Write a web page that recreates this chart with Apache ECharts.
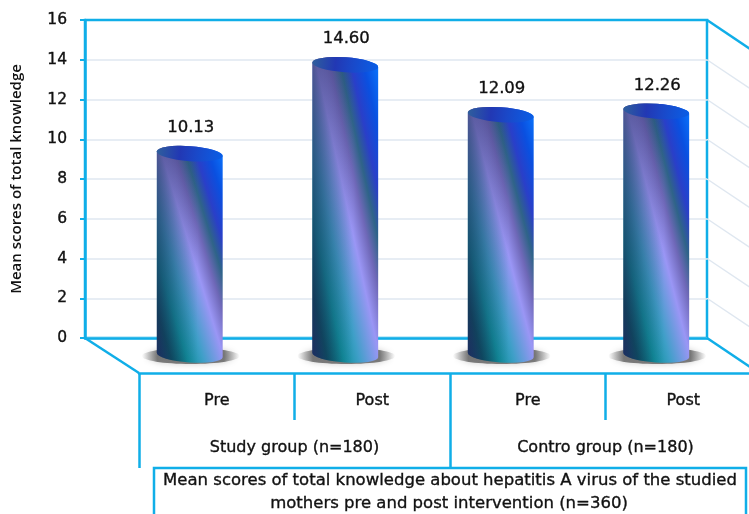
<!DOCTYPE html>
<html>
<head>
<meta charset="utf-8">
<style>html,body{margin:0;padding:0;background:#fff}#chart{width:749px;height:514px}</style>
<script src="https://cdn.jsdelivr.net/npm/echarts@6/dist/echarts.min.js"></script>
</head>
<body>
<div id="chart"></div>
<script>
// Chart values
const barKeys = ['Study Pre', 'Study Post', 'Control Pre', 'Control Post'];
const meanScores = [10.13, 14.60, 12.09, 12.26];
const phaseLabels = ['Pre', 'Post', 'Pre', 'Post'];
const groupLabels = ['Study group (n=180)', 'Contro group (n=180)'];
const yTicks = [0, 2, 4, 6, 8, 10, 12, 14, 16];
const yName = 'Mean scores of total knowledge';
const captionLines = [
  'Mean scores of total knowledge about hepatitis A virus of the studied',
  'mothers pre and post intervention (n=360)'
];

const CYAN = '#10aee8';
const WALL = '#dfe7f0';
const INK = '#111';
const FONT = '"DejaVu Sans", sans-serif';

// Light text outline that thickens the regular weight a little
const heavierLabel = { textBorderColor: INK, textBorderWidth: 0.35 };
const heavierText = { stroke: INK, lineWidth: 0.35 };

// Pseudo-3D depth: how far the bars and the floor sit in front of the back wall
const BAR_DX = 27, BAR_DY = 17;
const FLOOR_DX = 54, FLOOR_DY = 35, WALL_SLOPE = 0.67;
const RX = 33, RY = 7.5, TILT = 4;

const bodyStops = [
  [0.00, '#1d3c78'], [0.12, '#075a68'], [0.24, '#0f929e'], [0.36, '#3f9fc8'],
  [0.52, '#9a96f5'], [0.62, '#6f68b8'], [0.70, '#2f6488'], [0.78, '#2a3fc8'],
  [0.88, '#0a50e0'], [1.00, '#0a78ff']
].map(([offset, color]) => ({ offset, color }));

// Gradient running across the box diagonal so its bands follow the cylinder's slant
function slantedFill(w, h) {
  const l2 = w * w + h * h, ax = h * h / l2, ay = w * w / l2;
  return new echarts.graphic.LinearGradient(0.5 - ax, 0.5 + ay, 0.5 + ax, 0.5 - ay, bodyStops);
}

function renderCylinder(params, api) {
  const idx = api.value(0), val = api.value(1);
  const top = api.coord([idx, val]), base = api.coord([idx, 0]);
  const cx = top[0] + BAR_DX, yTop = top[1] + BAR_DY, yBase = base[1] + BAR_DY;
  const rad = TILT * Math.PI / 180;
  const ex = RX * Math.cos(rad), ey = RX * Math.sin(rad);
  const arc = (sweep, x, y) => `A ${RX} ${RY} ${TILT} 0 ${sweep} ${x} ${y}`;
  const body = `M ${cx - ex} ${yTop - ey} L ${cx - ex} ${yBase - ey} ` +
    arc(0, cx + ex, yBase + ey) + ` L ${cx + ex} ${yTop + ey} ` + arc(0, cx - ex, yTop - ey) + ' Z';
  const cap = `M ${cx - ex} ${yTop - ey} ` + arc(1, cx + ex, yTop + ey) + ' ' + arc(1, cx - ex, yTop - ey) + ' Z';
  return {
    type: 'group',
    children: [
      {
        type: 'ellipse',
        shape: { cx: cx + 1, cy: yBase + 1, rx: 49, ry: 8 },
        style: {
          fill: new echarts.graphic.LinearGradient(0, 0, 1, 0, [
            { offset: 0, color: 'rgba(120,120,120,0)' }, { offset: 0.16, color: 'rgba(95,95,95,0.8)' },
            { offset: 0.84, color: 'rgba(95,95,95,0.8)' }, { offset: 1, color: 'rgba(120,120,120,0)' }
          ]),
          shadowBlur: 6, shadowColor: 'rgba(130,130,130,0.5)'
        }
      },
      { type: 'path', shape: { pathData: body }, style: { fill: slantedFill(RX * 2, yBase - yTop + 2 * RY) } },
      // Shading that dulls the left flank of the cylinder
      {
        type: 'path', shape: { pathData: body },
        style: {
          fill: new echarts.graphic.LinearGradient(0, 0, 0.62, 0, [
            { offset: 0, color: 'rgba(30,35,80,0.58)' }, { offset: 0.5, color: 'rgba(30,35,80,0.26)' },
            { offset: 1, color: 'rgba(30,35,80,0)' }
          ])
        }
      },
      {
        type: 'path', shape: { pathData: cap },
        style: {
          fill: new echarts.graphic.LinearGradient(0, 0.3, 1, 0.7, [
            { offset: 0, color: '#2f5f9c' }, { offset: 0.35, color: '#2238b4' },
            { offset: 0.6, color: '#1a48c8' }, { offset: 1, color: '#0a5ee6' }
          ])
        }
      },
      {
        type: 'text',
        style: Object.assign({
          text: val.toFixed(2), x: cx + 1, y: yTop - 26, align: 'center', verticalAlign: 'middle',
          font: '16.5px ' + FONT, fill: INK
        }, heavierText)
      }
    ]
  };
}

// Slanted side-wall lines at each tick, plus the left and right floor edges
function renderWall(params, api) {
  const val = api.value(1);
  const grid = params.coordSys;
  const y = api.coord([0, val])[1];
  const right = grid.x + grid.width;
  const outer = val === 0 || val === 16;
  const edge = { stroke: outer ? CYAN : WALL, lineWidth: outer ? 2.5 : 1.5 };
  const children = [{
    type: 'line',
    shape: { x1: right, y1: y, x2: right + 60, y2: y + 60 * WALL_SLOPE },
    style: edge
  }];
  if (val === 0) {
    children.push({
      type: 'line',
      shape: { x1: grid.x, y1: y, x2: grid.x + FLOOR_DX, y2: y + FLOOR_DY },
      style: edge
    });
  }
  return { type: 'group', children };
}

const chart = echarts.init(document.getElementById('chart'), null, { renderer: 'canvas' });
chart.setOption({
  backgroundColor: '#fff',
  animation: false,
  grid: [
    { left: 85, top: 20, width: 622, height: 318, outerBoundsMode: 'none', show: true, borderColor: CYAN, borderWidth: 2.5, backgroundColor: 'transparent' },
    { left: 139, top: 100, width: 622, height: 273, outerBoundsMode: 'none' }
  ],
  xAxis: [
    {
      gridIndex: 0, type: 'category', data: barKeys,
      axisLine: { show: true, lineStyle: { color: CYAN, width: 2.5 } },
      axisTick: { show: false }, axisLabel: { show: false }, splitLine: { show: false }
    },
    {
      gridIndex: 1, type: 'category', position: 'bottom', data: phaseLabels,
      axisLine: { show: true, lineStyle: { color: CYAN, width: 2.5 } },
      axisTick: { show: true, length: 47, lineStyle: { color: CYAN, width: 2.5 } },
      axisLabel: Object.assign({ interval: 0, margin: 20, color: INK, fontFamily: FONT, fontSize: 16 }, heavierLabel)
    },
    {
      gridIndex: 1, type: 'category', position: 'bottom', data: groupLabels,
      axisLine: { show: false },
      axisTick: { show: true, length: 95, lineStyle: { color: CYAN, width: 2.5 } },
      axisLabel: Object.assign({ interval: 0, margin: 67, color: INK, fontFamily: FONT, fontSize: 16 }, heavierLabel)
    }
  ],
  yAxis: [
    {
      gridIndex: 0, type: 'value', min: 0, max: 16, interval: 2,
      name: yName, nameLocation: 'middle', nameGap: 61,
      nameTextStyle: { color: INK, fontFamily: '"Open Sans", sans-serif', fontSize: 15, fontWeight: 600 },
      axisLine: { show: true, lineStyle: { color: CYAN, width: 2.5 } },
      axisTick: { show: true, length: 5, lineStyle: { color: CYAN, width: 2 } },
      axisLabel: Object.assign({ margin: 18, padding: [3, 0, 0, 0], color: INK, fontFamily: FONT, fontSize: 15.5 }, heavierLabel),
      splitLine: { show: true, showMaxLine: false, lineStyle: { color: WALL, width: 1.5 } }
    },
    { gridIndex: 1, type: 'value', show: false, splitLine: { show: false } }
  ],
  series: [
    {
      type: 'custom', xAxisIndex: 0, yAxisIndex: 0, z: 1, silent: true, clip: false,
      renderItem: renderWall,
      encode: { x: 0, y: 1 },
      data: yTicks.map(v => [0, v])
    },
    {
      type: 'custom', xAxisIndex: 0, yAxisIndex: 0, z: 5, silent: true, clip: false,
      renderItem: renderCylinder,
      encode: { x: 0, y: 1 },
      data: meanScores.map((v, i) => [i, v])
    }
  ],
  graphic: [
    {
      type: 'rect', z: 10, shape: { x: 154, y: 468, width: 592, height: 50 },
      style: { fill: '#fff', stroke: CYAN, lineWidth: 2.5 }
    },
    {
      type: 'text', z: 11, x: 450, y: 481,
      style: Object.assign({ text: captionLines[0], align: 'center', verticalAlign: 'middle', font: '16.5px ' + FONT, fill: INK }, heavierText)
    },
    {
      type: 'text', z: 11, x: 449, y: 504,
      style: Object.assign({ text: captionLines[1], align: 'center', verticalAlign: 'middle', font: '16.5px ' + FONT, fill: INK }, heavierText)
    }
  ]
});
</script>
</body>
</html>
